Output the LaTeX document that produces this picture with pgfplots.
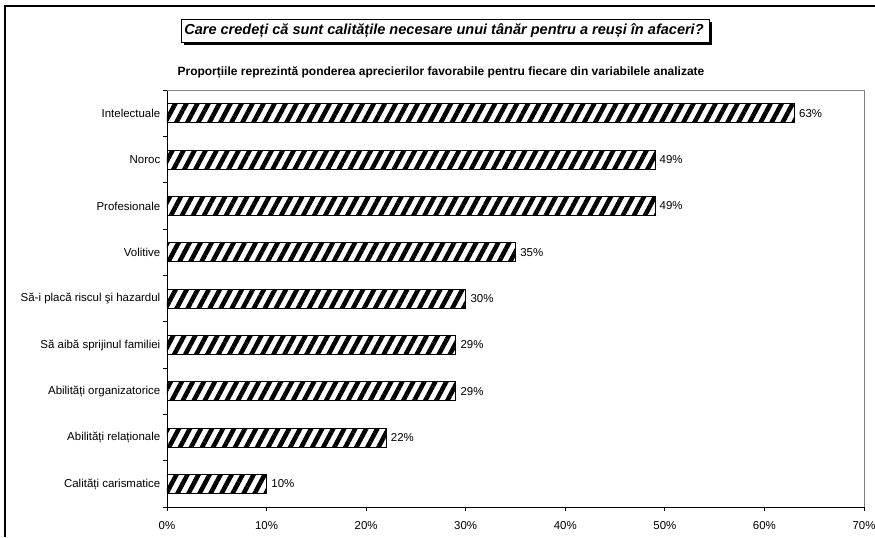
\documentclass[border=0pt]{standalone}
\usepackage{fontspec}
\setmainfont{Liberation Sans}
\usepackage{pgfplots}
\pgfplotsset{compat=1.18}
\usetikzlibrary{patterns.meta}

\definecolor{frame}{gray}{0.5}

\begin{document}
\begin{tikzpicture}[x=0.75pt,y=0.75pt]
  % page area and outer frame (top and left edges)
  \useasboundingbox (0,0) rectangle (875,537);
  \draw[black, line width=0.9pt] (5,0) -- (5,531) -- (875,531);

  % boxed title with a solid shadow
  \fill[black] (184,537-45) rectangle (712,537-22);
  \draw[black, fill=white, line width=0.6pt] (181,537-42) rectangle (709,537-19);
  \node[font=\fontsize{10.9}{13}\selectfont\bfseries\itshape] at (444,537-30.5)
    {Care credeți că sunt calitățile necesare unui tânăr pentru a reuși în afaceri?};

  % subtitle
  \node[font=\fontsize{9}{10}\selectfont\bfseries] at (441,537-72)
    {Proporțiile reprezintă ponderea aprecierilor favorabile pentru fiecare din variabilele analizate};

  \begin{axis}[
    at={(125.25pt,39.75pt)}, anchor=origin,
    scale only axis,
    width=522.75pt, height=312.75pt,
    xbar, bar width=14.25pt,
    xmin=0, xmax=70,
    ymin=-0.5, ymax=8.5,
    axis x line*=bottom, axis y line*=left,
    axis line style={black, line width=0.6pt},
    xtick={0,10,...,70},
    xticklabels={0\%,10\%,20\%,30\%,40\%,50\%,60\%,70\%},
    ytick={0,...,8},
    yticklabels={Calități carismatice, Abilități relaționale, Abilități organizatorice,
      Să aibă sprijinul familiei, Să-i placă riscul şi hazardul, Volitive,
      Profesionale, Noroc, Intelectuale},
    minor ytick={-0.5,0.5,...,8.5},
    tick align=outside,
    major tick length=3pt,
    minor tick length=3pt,
    ytick style={draw=none},
    minor y tick style={draw=black, line width=0.6pt},
    xtick style={black, line width=0.6pt},
    tick label style={font=\fontsize{8.6}{10}\selectfont},
    yticklabel style={xshift=1.5pt},
    xticklabel style={yshift=-4pt},
    /pgf/number format/assume math mode=true,
    nodes near coords={\pgfmathprintnumber{\pgfplotspointmeta}\%},
    nodes near coords style={font=\fontsize{8.6}{10}\selectfont, anchor=west, xshift=0pt},
    clip=false,
  ]
    % right and top edges of the plot area
    \draw[frame, line width=0.6pt] (rel axis cs:0,1) -- (rel axis cs:1,1) -- (rel axis cs:1,0);
    \addplot[draw=black, line width=0.6pt,
      pattern={Lines[angle=62, distance=7.3pt, line width=3.4pt]}, pattern color=black]
      coordinates {
        (10,0) (22,1) (29,2) (29,3) (30,4) (35,5) (49,6) (49,7) (63,8)
      };
  \end{axis}
\end{tikzpicture}
\end{document}
